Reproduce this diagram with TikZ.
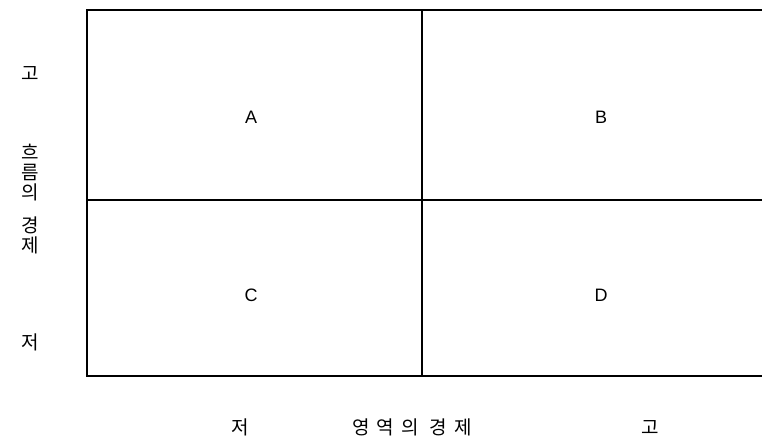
\documentclass[tikz,border=0pt]{standalone}
\usepackage{fontspec}
\setmainfont{Liberation Sans}
\newfontfamily\kr{Noto Sans CJK KR}
\begin{document}
\begin{tikzpicture}[x=1pt,y=-1pt,
  gridline/.style={line width=2pt,black},
  cell/.style={font=\fontsize{18}{20}\selectfont},
  axis/.style={font=\kr\fontsize{19}{20}\selectfont, inner sep=0pt}]
\useasboundingbox (0,0) rectangle (762,437);
\coordinate (tl) at (87,10);
\coordinate (tr) at (762,10);
\coordinate (bl) at (87,376);
\coordinate (br) at (762,376);
\coordinate (ml) at (87,200);
\coordinate (mr) at (762,200);
\coordinate (mt) at (422,10);
\coordinate (mb) at (422,376);
\draw[gridline] (tr) -- (tl) -- (bl) -- (br);
\draw[gridline] (ml) -- (mr);
\draw[gridline] (mt) -- (mb);
\node[cell] (A) at (251,117) {A};
\node[cell] (B) at (601,117) {B};
\node[cell] (C) at (251,295) {C};
\node[cell] (D) at (601,295) {D};
\node[axis] (yhi) at (30,74) {고};
\node[axis] (ylo) at (30,342) {저};
\node[axis, align=center, anchor=north] (ylab) at (30,144) {\fontsize{19}{20}\selectfont 흐\\름\\의\\[13pt]경\\제};
\node[axis] (xlo) at (240,427) {저};
\node[axis] (xhi) at (650,427) {고};
\node[axis] (xlab) at (412,427) {영\hspace{7pt}역\hspace{7pt}의\hspace{11pt}경\hspace{7pt}제};
\end{tikzpicture}
\end{document}
